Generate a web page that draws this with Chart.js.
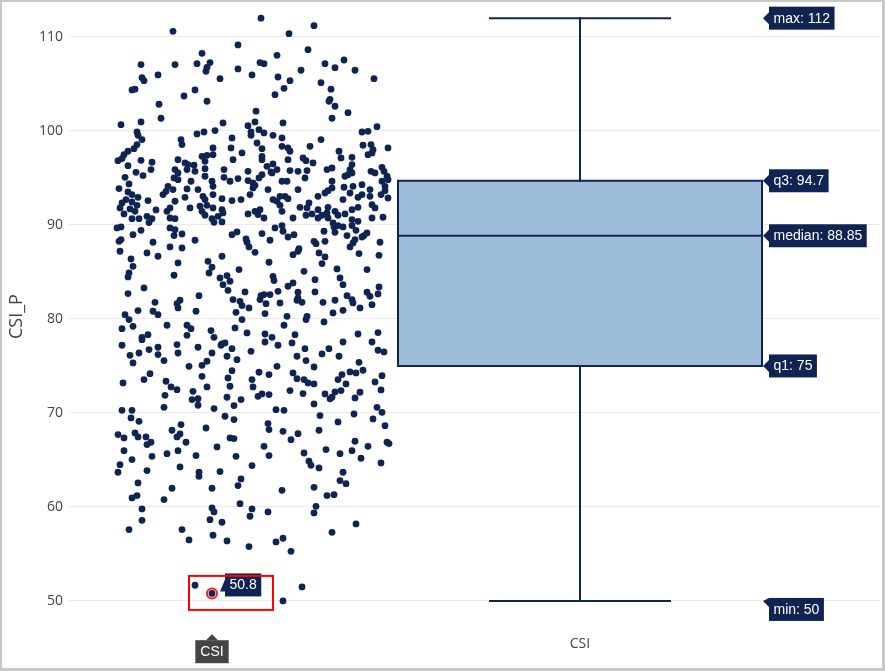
<!DOCTYPE html>
<html><head><meta charset="utf-8">
<script src="https://cdn.jsdelivr.net/npm/chart.js@4.4.1/dist/chart.umd.min.js"></script>
<style>
html,body{margin:0;padding:0;background:#fff;}
#wrap{position:relative;width:885px;height:671px;overflow:hidden;background:#fff;}
#c{position:absolute;left:0;top:0;}
#frame{position:absolute;left:0;top:0;width:885px;height:671px;box-sizing:border-box;border:2px solid #c8c8c8;border-right-width:3px;border-bottom-width:3px;pointer-events:none;}
</style></head><body>
<div id="wrap"><canvas id="c" width="885" height="671"></canvas><div id="frame"></div></div>
<script>
// ---- data ----
const seriesName = 'CSI';
const yAxisTitle = 'CSI_P';
const yTickValues = [50, 60, 70, 80, 90, 100, 110];
const xTickValues = [0];
const xTickLabels = ['CSI'];
const statLabels = ['min', 'q1', 'median', 'q3', 'max'];
const statValues = [50, 75, 88.85, 94.7, 112];
const highlightValue = 50.8;
// [jitter, CSI_P] pairs
const csiPoints = [
[-3.19,112],[-2.66,111.2],[-4.07,110.6],[-2.91,110.35],[-3.42,109.15],[-2.72,108.65],[-3.78,108.26],[-3.03,108.05],[-4.39,107.06],[-4.05,107.06],[-3.83,107.16],[-3.70,107.27],[-3.73,106.77],[-3.74,106.35],[-3.20,107.27],[-3.16,107.16],[-2.55,107.16],[-2.36,107.55],[-2.45,106.73],[-2.25,106.46],[-2.06,105.56],[-3.42,106.6],[-3.28,105.96],[-4.22,105.96],[-4.38,105.67],[-4.36,105.35],[-3.60,105.56],[-3.02,105.74],[-2.90,105.35],[-2.79,106.46],[-2.59,105.14],[-2.49,104.44],[-4.48,104.36],[-4.45,104.44],[-3.85,104.36],[-3.96,103.72],[-3.73,103.16],[-2.96,104.54],[-3.05,103.86],[-2.50,103.37],[-2.51,103.16],[-2.45,102.63],[-2.32,101.95],[-4.21,102.84],[-4.19,101.35],[-3.24,102.1],[-3.25,100.96],[-2.48,101.35],[-4.39,100.96],[-4.59,100.67],[-3.57,100.85],[-2.97,100.85],[-3.32,100.56],[-2.03,100.46],
[-4.43,99.89],[-4.42,99.54],[-4.38,99.08],[-4.43,98.55],[-4.46,98.12],[-4.52,97.84],[-4.56,97.48],[-4.62,96.84],[-4.58,97.06],[-4.52,96.31],[-4.39,96.88],[-4.28,96.67],[-4.29,95.89],[-4.44,95.60],[-4.37,95.25],[-4.55,95.07],[-4.51,94.36],[-4.61,93.87],[-4.52,93.51],[-4.48,93.23],[-4.42,92.94],[-4.54,92.70],[-4.58,92.34],[-4.48,92.45],[-4.43,92.09],[-4.32,92.59],[-4.60,91.81],[-4.50,91.70],[-4.45,91.45],[-4.56,91.17],[-4.24,91.60],[-4.48,90.67],[-4.41,90.67],[-4.33,90.92],[-4.28,90.67],[-4.31,90.25],
[-3.99,99.08],[-3.98,98.55],[-4.02,96.95],[-3.95,96.60],[-3.92,96.42],[-3.86,96.35],[-4.05,95.89],[-4.02,95.53],[-3.93,95.89],[-3.85,95.71],[-3.75,95.99],[-4.06,95.00],[-4.02,94.82],[-3.89,94.65],[-3.75,95.18],[-3.68,94.65],[-4.12,94.11],[-4.14,93.58],[-4.17,93.23],[-4.07,93.76],[-3.93,93.83],[-3.82,93.76],[-3.67,94.11],[-3.95,92.94],[-4.05,92.52],[-3.77,93.05],[-3.75,92.70],[-3.67,93.23],[-4.10,91.81],[-4.13,91.45],[-3.90,91.81],[-3.80,91.99],[-3.73,92.09],[-3.67,91.81],[-3.58,91.63],[-3.78,91.45],[-3.75,91.03],[-3.68,90.67],[-3.62,90.92],[-3.57,91.28],[-4.10,90.74],[-4.05,90.67],[-3.66,90.28],[-3.58,90.32],[-3.83,99.68],[-3.76,99.89],[-3.65,100.04],[-3.78,97.30],[-3.73,97.41],[-3.67,98.19],[-3.67,97.48],[-3.75,96.77],
[-3.48,99.26],[-3.49,98.19],[-3.47,96.95],[-3.38,97.66],[-3.56,95.89],[-3.56,95.07],[-3.50,94.65],[-3.42,94.93],[-3.32,95.71],[-3.58,92.80],[-3.48,92.59],[-3.39,92.70],[-3.29,99.89],[-3.29,99.54],[-3.23,98.72],[-3.18,98.12],[-3.18,97.30],[-3.18,96.95],[-3.13,96.24],[-3.09,95.64],[-3.03,95.89],[-3.32,94.72],[-3.27,94.47],[-3.25,94.22],[-3.21,95.00],[-3.18,95.35],[-3.12,93.76],[-3.27,93.94],[-3.30,93.23],[-3.32,91.17],[-3.25,91.45],[-3.20,91.63],[-3.22,91.10],[-3.16,90.74],[-3.21,100.14],[-3.16,99.79],[-3.07,99.54],[-2.98,99.26],[-3.07,96.49],[-3.08,95.53],[-3.07,92.70],[-3.03,92.52],[-3.00,93.05],[-3.00,92.09],
[-2.98,98.37],[-2.92,98.19],[-2.90,97.84],[-2.92,96.95],[-2.70,98.37],[-2.59,99.08],[-2.77,97.13],[-2.74,96.84],[-2.67,96.60],[-2.90,95.78],[-2.82,95.71],[-2.73,95.78],[-2.98,94.65],[-2.93,94.65],[-2.75,95.00],[-2.82,93.76],[-2.95,93.05],[-2.92,92.80],[-2.98,91.45],[-2.87,90.74],[-2.80,91.88],[-2.73,91.81],[-2.71,92.34],[-2.62,93.05],[-2.55,93.40],[-2.52,93.65],[-2.48,93.94],[-2.48,94.65],[-2.53,95.89],[-2.48,96.06],[-2.74,91.03],[-2.68,91.17],[-2.62,91.63],[-2.58,91.03],[-2.53,91.28],[-2.52,91.88],[-2.45,91.45],[-2.42,91.03],[-2.62,90.74],[-2.52,90.74],[-2.47,90.21],
[-2.18,99.89],[-2.12,99.96],[-2.17,98.48],[-2.09,98.55],[-2.07,98.01],[-2.08,97.66],[-2.12,97.48],[-2.41,97.84],[-2.39,97.13],[-2.28,97.20],[-2.28,96.42],[-2.30,95.89],[-2.28,95.53],[-2.32,95.35],[-2.35,95.18],[-2.09,95.71],[-2.05,95.53],[-1.98,96.13],[-1.96,95.71],[-1.93,95.18],[-1.98,94.65],[-1.92,94.82],[-2.18,94.29],[-2.27,94.11],[-2.36,94.01],[-2.30,93.40],[-2.37,92.70],[-2.22,92.94],[-2.18,93.23],[-2.10,93.76],[-2.10,93.05],[-1.95,94.11],[-1.95,93.65],[-1.99,93.23],[-1.92,92.87],[-2.08,92.16],[-2.05,91.81],[-2.28,91.63],[-2.22,91.88],[-2.08,90.74],[-1.97,90.82],[-1.92,98.19],[-2.35,91.17],[-2.28,90.57],[-2.22,90.39],
[-4.63,89.68],[-4.59,89.79],[-4.59,88.44],[-4.61,88.26],[-4.60,87.20],[-4.47,88.97],[-4.39,89.43],[-4.27,88.16],[-4.33,87.02],[-4.22,86.67],[-4.49,86.38],[-4.47,85.60],[-4.51,84.89],[-4.52,84.47],[-4.52,82.70],[-4.36,83.30],[-4.55,80.46],[-4.51,79.93],[-4.42,80.89],[-4.25,81.77],[-4.27,80.82],[-4.22,80.46],[-4.10,89.68],[-4.05,89.50],[-4.06,88.87],[-3.98,89.04],[-4.10,87.66],[-3.98,87.55],[-3.85,88.37],[-4.02,85.96],[-4.06,84.65],[-4.00,81.99],[-4.03,81.63],[-4.02,81.17],[-3.81,82.48],[-3.84,80.82],
[-3.48,88.97],[-3.43,89.26],[-3.34,88.51],[-3.33,88.16],[-3.31,87.66],[-3.58,86.67],[-3.72,86.13],[-3.68,85.50],[-3.71,84.89],[-3.60,84.36],[-3.53,84.61],[-3.57,83.65],[-3.50,84.01],[-3.52,83.05],[-3.41,85.25],[-3.25,87.09],[-3.35,82.87],[-3.47,82.06],[-3.40,81.88],[-3.38,81.42],[-3.31,81.17],[-3.44,80.71],[-3.38,79.93],
[-3.18,89.08],[-3.10,88.37],[-3.05,89.68],[-2.98,89.93],[-2.97,89.33],[-2.92,88.72],[-2.86,88.97],[-3.11,86.03],[-3.07,84.54],[-3.06,84.08],[-3.19,82.48],[-3.16,82.59],[-3.10,82.59],[-3.20,82.06],[-3.14,81.63],[-3.02,82.94],[-3.00,81.70],[-2.92,83.48],[-2.87,83.83],[-2.82,82.84],[-2.82,82.23],[-2.83,81.99],[-2.78,81.77],[-2.93,80.28],[-3.15,80.57],
[-2.87,86.84],[-2.82,87.20],[-2.81,87.48],[-2.76,85.07],[-2.66,88.26],[-2.64,88.01],[-2.56,89.33],[-2.55,88.26],[-2.61,87.02],[-2.55,86.60],[-2.58,85.89],[-2.65,84.18],[-2.65,82.87],[-2.57,81.77],[-2.73,80.28],[-2.74,79.93],[-2.47,80.64],[-2.37,80.92],
[-2.46,89.79],[-2.42,89.93],[-2.37,89.79],[-2.28,89.93],[-2.24,89.43],[-2.45,89.22],[-2.33,88.87],[-2.25,88.44],[-2.27,88.09],[-2.30,87.66],[-2.18,88.72],[-2.13,89.15],[-2.16,88.87],[-2.00,88.16],[-2.01,86.77],[-2.21,86.95],[-2.43,85.32],[-2.40,84.36],[-2.37,83.65],[-2.33,82.48],[-2.28,82.06],[-2.27,81.70],[-2.45,81.99],[-2.13,85.25],[-2.13,82.84],[-2.10,82.41],[-2.08,81.52],[-2.02,82.66],[-2.01,83.40],[-2.20,81.17],
[-4.58,78.97],[-4.58,77.20],[-4.50,76.13],[-4.47,75.32],[-4.47,79.22],[-4.38,78.05],[-4.38,77.80],[-4.32,78.33],[-4.41,76.38],[-4.31,76.74],[-4.22,76.99],[-4.22,76.21],[-4.16,75.57],[-4.57,73.19],[-4.36,73.55],[-4.30,74.18],[-4.58,70.28],[-4.48,70.28],
[-4.13,79.33],[-3.93,79.33],[-3.89,78.97],[-3.93,78.26],[-4.03,77.27],[-4.02,76.38],[-4.14,73.37],[-4.09,72.77],[-4.03,72.48],[-4.15,71.88],[-3.91,74.96],[-3.87,72.30],[-3.88,71.42],[-3.82,71.52],[-3.82,70.82],[-4.16,70.60],
[-3.82,76.99],[-3.69,78.76],[-3.66,78.05],[-3.59,77.20],[-3.58,77.34],[-3.55,77.45],[-3.68,76.38],[-3.73,75.50],[-3.78,75.07],[-3.78,73.90],[-3.73,72.77],[-3.66,70.46],[-3.53,76.03],[-3.48,76.84],[-3.43,75.67],[-3.45,79.04],[-3.33,78.51],[-3.48,74.50],[-3.52,73.72],[-3.50,72.84],[-3.53,71.67],[-3.46,70.78],[-3.39,71.42],
[-3.29,76.56],[-3.15,78.40],[-3.15,77.55],[-3.08,78.05],[-3.02,77.20],[-2.96,79.33],[-2.85,78.33],[-2.88,77.45],[-3.28,73.55],[-3.27,72.77],[-3.21,74.33],[-3.22,71.77],[-3.18,72.02],[-3.11,71.95],[-3.11,74.08],[-3.03,74.96],[-2.83,76.03],[-2.87,74.26],[-2.83,73.65],[-2.75,76.84],[-2.74,75.57],[-2.66,74.89],[-2.90,72.38],[-2.77,72.06],[-2.76,73.55],[-2.72,73.19],[-2.66,73.09],[-3.04,70.35],[-2.96,70.28],[-2.66,70.96],[-2.56,79.68],
[-2.58,76.28],[-2.51,76.84],[-2.41,76.03],[-2.37,77.55],[-2.42,73.55],[-2.38,74.08],[-2.34,73.09],[-2.30,74.36],[-2.24,74.26],[-2.21,75.39],[-2.17,74.54],[-2.22,78.40],[-2.08,77.55],[-2.02,78.55],[-2.02,76.67],[-1.96,76.49],[-2.55,72.02],[-2.48,71.67],[-2.45,72.23],[-2.50,71.50],[-2.39,72.38],[-2.25,71.60],[-2.20,72.20],[-2.05,73.30],[-1.98,73.97],[-1.99,72.45],[-2.03,70.60],[-1.98,70.07],[-2.26,69.89],
[-4.49,69.47],[-4.41,69.11],[-4.62,67.70],[-4.56,67.34],[-4.45,67.87],[-4.42,67.45],[-4.34,67.45],[-4.33,66.63],[-4.29,66.88],[-4.56,65.99],[-4.48,65.04],[-4.28,65.39],[-4.60,64.50],[-4.62,63.69],[-4.33,63.87],[-4.42,62.55],[-4.48,60.96],[-4.43,61.21],[-4.38,59.79],
[-4.08,68.16],[-3.99,68.76],[-4.03,67.45],[-4.00,67.77],[-3.94,66.88],[-4.13,65.67],[-4.02,65.99],[-4.00,64.26],[-4.08,61.99],[-4.16,60.78],
[-3.74,68.40],[-3.84,65.46],[-3.81,63.69],[-3.81,63.26],[-3.63,66.38],[-3.60,63.76],[-3.68,61.99],[-3.55,69.65],[-3.46,69.29],[-3.50,67.34],[-3.46,67.27],[-3.44,65.39],[-3.28,64.40],[-3.39,62.98],[-3.42,62.27],[-3.40,60.35],[-3.68,59.89],
[-3.12,68.87],[-3.11,68.23],[-2.97,68.05],[-2.89,67.16],[-2.82,67.80],[-3.16,66.45],[-3.11,65.46],[-2.98,61.77],[-3.28,59.79],
[-2.60,69.72],[-2.61,68.16],[-2.42,69.04],[-2.76,65.74],[-2.71,64.86],[-2.69,64.43],[-2.61,64.15],[-2.54,66.10],[-2.40,65.67],[-2.37,63.69],[-2.40,62.80],[-2.34,62.48],[-2.66,62.09],[-2.53,61.21],[-2.46,61.31],[-2.64,60.07],
[-2.07,69.36],[-1.95,68.65],[-2.25,66.99],[-2.28,65.99],[-2.12,66.45],[-2.19,65.18],[-1.93,66.88],[-1.91,66.74],[-1.99,64.68],
[-4.38,58.58],[-4.51,57.59],[-3.98,57.59],[-3.91,56.49],[-3.70,58.65],[-3.66,59.47],[-3.58,58.37],[-3.67,56.99],[-3.53,56.38],[-3.30,59.01],[-3.12,59.47],[-3.31,55.78],[-3.04,56.28],[-2.97,56.67],[-2.89,55.28],[-2.66,59.36],[-2.48,57.30],[-2.24,58.19],
[-3.85,51.67],[-3.68,50.8],[-2.78,51.49],[-2.97,50]
];

// ---- styles ----
const NAVY = '#0f2452';
const BOX_FILL = '#9dbcda';
const GRID = '#ebebeb';
const TEXT = '#444444';
const BOX_HALF = 1.82;
const CAP_HALF = 0.90;
const TICK_FONT = {family: '"Open Sans", "DejaVu Sans", sans-serif', size: 14};
const HOVER_FONT = '14px "Liberation Sans", Arial, sans-serif';

const [sMin, sQ1, sMed, sQ3, sMax] = statValues;
const lineDs = (data) => ({type: 'line', data, borderColor: NAVY, borderWidth: 2, pointRadius: 0, fill: false, tension: 0, borderCapStyle: 'square'});

const overlay = {
  id: 'overlay',
  afterDatasetsDraw(chart) {
    const ctx = chart.ctx, xs = chart.scales.x, ys = chart.scales.y;
    ctx.save();
    ctx.font = HOVER_FONT;
    ctx.textBaseline = 'middle';
    const tipX = xs.getPixelForValue(BOX_HALF) + 1;
    const bx = tipX + 6;
    const h = 23;
    statLabels.forEach((lab, i) => {
      const txt = lab + ': ' + statValues[i];
      const y = ys.getPixelForValue(statValues[i]);
      const dy = (lab === 'min') ? 8.5 : 0;
      const top = y + dy - h / 2;
      const w = ctx.measureText(txt).width + 9;
      ctx.fillStyle = NAVY;
      ctx.beginPath();
      ctx.moveTo(tipX, y);
      ctx.lineTo(bx, Math.max(top, y - 6));
      ctx.lineTo(bx, y + 6);
      ctx.closePath();
      ctx.fill();
      ctx.fillRect(bx, top, w, h);
      ctx.fillStyle = '#ffffff';
      ctx.textAlign = 'left';
      ctx.fillText(txt, bx + 4.5, top + h / 2 + 0.5);
    });
    // highlighted point
    const hp = csiPoints.find(p => p[1] === highlightValue);
    if (hp) {
      const px = xs.getPixelForValue(hp[0]);
      const py = ys.getPixelForValue(hp[1]);
      ctx.strokeStyle = '#ff1a1a';
      ctx.lineWidth = 2;
      ctx.beginPath();
      ctx.arc(px, py, 5, 0, Math.PI * 2);
      ctx.stroke();
      // value label
      const vt = String(hp[1]);
      const vw = ctx.measureText(vt).width + 9;
      const vTop = py - 20;
      ctx.fillStyle = NAVY;
      ctx.beginPath();
      ctx.moveTo(px + 8, py - 2);
      ctx.lineTo(px + 13, vTop + 6);
      ctx.lineTo(px + 13, py - 2);
      ctx.closePath();
      ctx.fill();
      ctx.fillRect(px + 13, vTop, vw, h);
      ctx.fillStyle = '#ffffff';
      ctx.fillText(vt, px + 17.5, vTop + h / 2 + 0.5);
      // x hover label
      const ct = seriesName;
      const cw = ctx.measureText(ct).width + 10;
      const cTop = chart.chartArea.bottom + 12;
      ctx.fillStyle = '#444444';
      ctx.beginPath();
      ctx.moveTo(px, cTop - 6);
      ctx.lineTo(px - 6, cTop);
      ctx.lineTo(px + 6, cTop);
      ctx.closePath();
      ctx.fill();
      ctx.fillRect(px - cw / 2, cTop, cw, h);
      ctx.fillStyle = '#ffffff';
      ctx.textAlign = 'center';
      ctx.fillText(ct, px, cTop + h / 2 + 0.5);
      // red annotation rectangle
      ctx.strokeStyle = '#ff0000';
      ctx.lineWidth = 2;
      ctx.strokeRect(px - 23, py - 17.5, 84, 34);
    }
    ctx.restore();
  }
};

new Chart(document.getElementById('c'), {
  type: 'scatter',
  data: {
    datasets: [
      lineDs([{x: -BOX_HALF, y: sMed}, {x: BOX_HALF, y: sMed}]),
      lineDs([{x: 0, y: sQ3}, {x: 0, y: sMax}]),
      lineDs([{x: -CAP_HALF, y: sMax}, {x: CAP_HALF, y: sMax}]),
      lineDs([{x: 0, y: sQ1}, {x: 0, y: sMin}]),
      lineDs([{x: -CAP_HALF, y: sMin}, {x: CAP_HALF, y: sMin}]),
      Object.assign(lineDs([{x: -BOX_HALF, y: sQ1}, {x: BOX_HALF, y: sQ1}, {x: BOX_HALF, y: sQ3}, {x: -BOX_HALF, y: sQ3}, {x: -BOX_HALF, y: sQ1}]),
        {fill: 'shape', backgroundColor: BOX_FILL, borderJoinStyle: 'miter'}),
      {
        type: 'scatter', label: seriesName,
        data: csiPoints.map(p => ({x: p[0], y: p[1]})),
        pointRadius: 3.4, pointBackgroundColor: NAVY, pointBorderWidth: 0, pointBorderColor: NAVY
      }
    ]
  },
  options: {
    responsive: false, animation: false, devicePixelRatio: 1, events: [],
    layout: {padding: {top: 5, right: 5, left: 0, bottom: 0}},
    plugins: {legend: {display: false}, tooltip: {enabled: false}},
    scales: {
      x: {
        type: 'linear', min: -5.12, max: 3.0,
        grid: {display: false, drawTicks: false}, border: {display: false},
        afterBuildTicks: s => { s.ticks = xTickValues.map(v => ({value: v})); },
        ticks: {
          callback: v => { const i = xTickValues.indexOf(v); return i >= 0 ? xTickLabels[i] : ''; },
          color: TEXT, font: TICK_FONT, padding: 7, maxRotation: 0, autoSkip: false
        },
        afterFit: s => { s.height = 42.8; s.paddingLeft = 0; s.paddingRight = 0; }
      },
      y: {
        type: 'linear', min: 47.1, max: 113.4,
        grid: {color: GRID, lineWidth: 1, drawTicks: false}, border: {display: false},
        afterBuildTicks: s => { s.ticks = yTickValues.map(v => ({value: v})); },
        ticks: {color: TEXT, font: TICK_FONT, padding: 5},
        title: {display: true, text: yAxisTitle, color: TEXT, font: {family: '"Open Sans", "DejaVu Sans", sans-serif', size: 18}, padding: {top: 6, bottom: 0}},
        afterFit: s => { s.width = 68; s.paddingTop = 0; s.paddingBottom = 0; }
      }
    }
  },
  plugins: [overlay]
});
</script>
</body></html>
